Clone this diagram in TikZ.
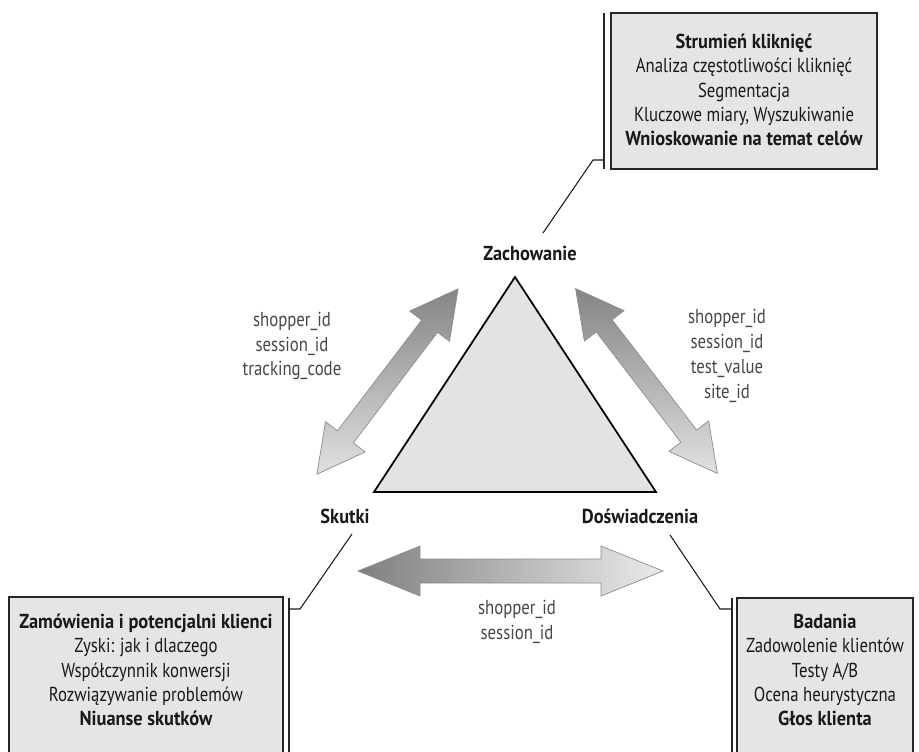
\documentclass[tikz,border=0pt]{standalone}
\usepackage{fontspec}
\setmainfont[FakeStretch=0.83, BoldFeatures={FakeStretch=0.91}]{PT Sans}

\begin{document}
\begin{tikzpicture}[x=0.02cm, y=-0.02cm,
    name node/.style={font=\fontsize{11.5}{13.8}\selectfont\bfseries, text=black!90},
    id node/.style={align=center, text=black!72, font=\fontsize{11.5}{14.2}\selectfont},
    box text/.style={align=center, text=black!90, font=\fontsize{11.5}{13.8}\selectfont},
    box frame/.style={draw=black!85, line width=1.1pt, fill=black!10},
    bracket/.style={draw=black!85, line width=0.8pt},
    leader/.style={draw=black!90, line width=0.6pt},
    tri/.style={draw=black, line width=1pt, fill=black!11, line join=miter},
    diag arrow/.style={draw=black!45, line width=0.4pt, top color=black!48, bottom color=black!12},
    flat arrow/.style={draw=black!45, line width=0.4pt, left color=black!50, right color=black!8},
    pics/dblarr/.style args={#1/#2/#3/#4/#5}{code={
      \path[#5] (-#1,0) -- (-#1+#2,#3) -- (-#1+#2,#4) -- (#1-#2,#4) -- (#1-#2,#3) -- (#1,0)
        -- (#1-#2,-#3) -- (#1-#2,-#4) -- (-#1+#2,-#4) -- (-#1+#2,-#3) -- cycle;}}]

  \useasboundingbox (0,0) rectangle (919,751);
  \clip (0,0) rectangle (919,751);

  \coordinate (apex) at (515,277);
  \coordinate (lcorner) at (374,492);
  \coordinate (rcorner) at (656,492);
  \draw[tri] (apex) -- (lcorner) -- (rcorner) -- cycle;

  \pic[rotate=52.7] at (387.5,381.5) {dblarr=116.5/47/25/10/diag arrow};
  \pic[rotate=-52.5] at (646.5,381) {dblarr=116.5/47/25/10/diag arrow};
  \pic at (510.5,571) {dblarr=152.5/62/25/12/flat arrow};

  \node[name node] (zach) at (530,253) {Zachowanie};
  \node[name node] (skut) at (345,516) {Skutki};
  \node[name node] (dosw) at (640,516) {Doświadczenia};

  \node[id node] (leftids) at (292,346) {shopper\_id\\session\_id\\tracking\_code};
  \node[id node] (rightids) at (727,356) {shopper\_id\\session\_id\\test\_value\\site\_id};
  \node[id node] (bottomids) at (517,622) {shopper\_id\\session\_id};

  \draw[box frame] (611,13) rectangle (877,169);
  \draw[bracket] (604,13) -- (604,169);
  \node[box text] (topbox) at (744,90) {\textbf{Strumień kliknięć}\\Analiza częstotliwości kliknięć\\Segmentacja\\Kluczowe miary, Wyszukiwanie\\\textbf{Wnioskowanie na temat celów}};

  \draw[box frame] (9,597) rectangle (283,790);
  \draw[bracket] (289,598) -- (289,790);
  \node[box text] (leftbox) at (146,670) {\textbf{Zamówienia i potencjalni klienci}\\Zyski: jak i dlaczego\\Współczynnik konwersji\\Rozwiązywanie problemów\\\textbf{Niuanse skutków}};

  \draw[box frame] (737,598) rectangle (913,790);
  \draw[bracket] (732,598) -- (732,790);
  \node[box text] (rightbox) at (825,670) {\textbf{Badania}\\Zadowolenie klientów\\Testy A/B\\Ocena heurystyczna\\\textbf{Głos klienta}};

  \coordinate (topknee) at (593,160);
  \coordinate (topend) at (543,233);
  \coordinate (leftknee) at (300,609);
  \coordinate (leftend) at (352,534);
  \coordinate (rightknee) at (720,609);
  \coordinate (rightend) at (670,535);
  \draw[leader] (604,160) -- (topknee) -- (topend);
  \draw[leader] (289,609) -- (leftknee) -- (leftend);
  \draw[leader] (732,609) -- (rightknee) -- (rightend);
\end{tikzpicture}
\end{document}
